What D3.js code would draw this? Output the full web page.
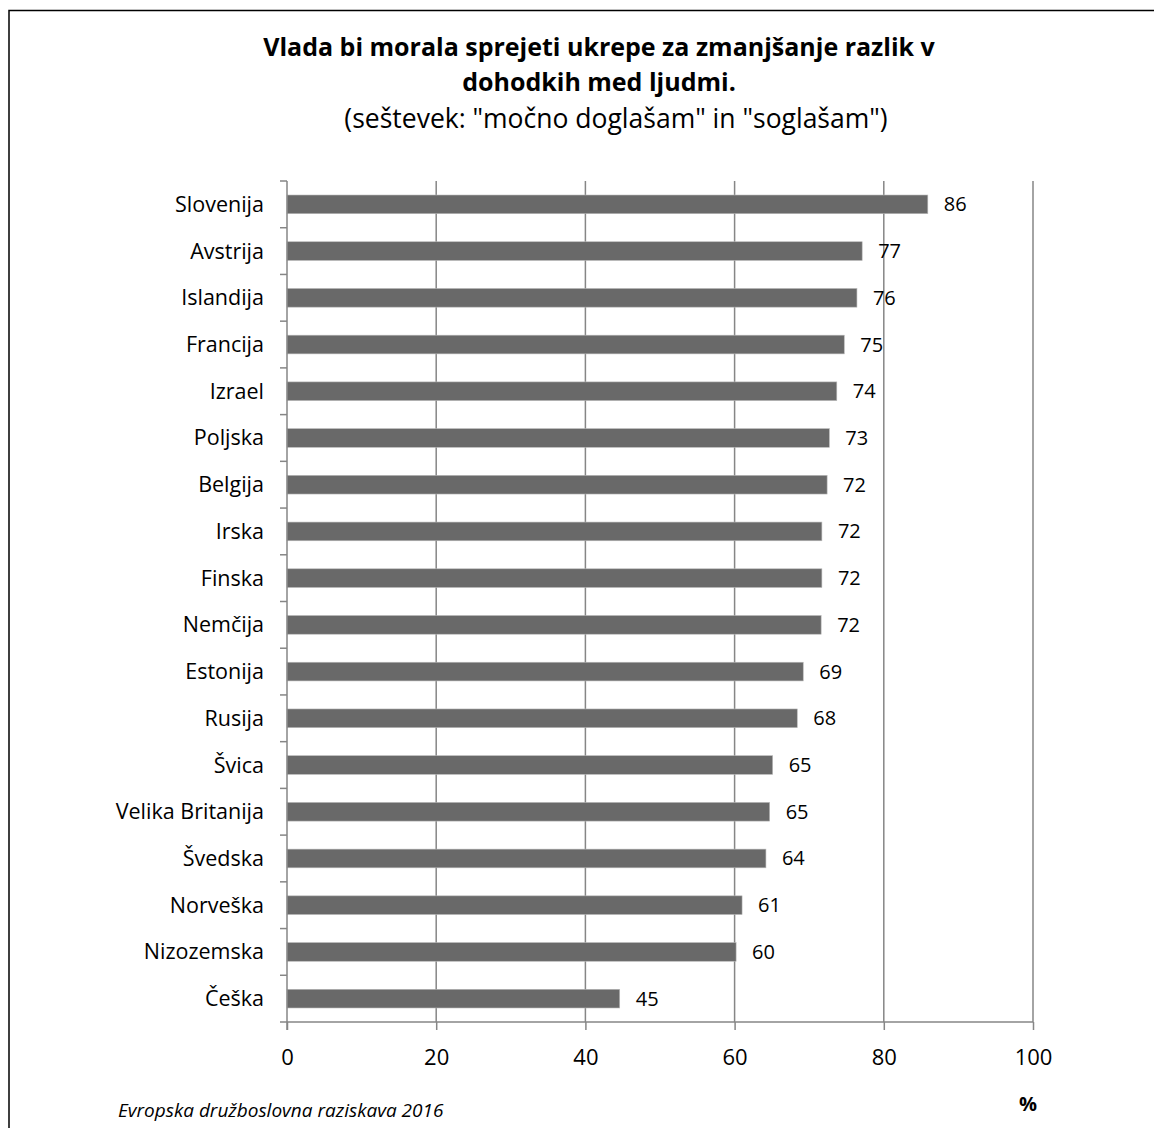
<!DOCTYPE html>
<html>
<head>
<meta charset="utf-8">
<script src="https://cdn.jsdelivr.net/npm/d3@7"></script>
<style>
  body { margin: 0; background: #fff; }
  svg { display: block; font-family: "Open Sans", sans-serif; }
</style>
</head>
<body>
<svg id="chart" width="1154" height="1128"></svg>
<script>
// data
var countries = ["Slovenija", "Avstrija", "Islandija", "Francija", "Izrael", "Poljska",
    "Belgija", "Irska", "Finska", "Nemčija", "Estonija", "Rusija", "Švica",
    "Velika Britanija", "Švedska", "Norveška", "Nizozemska", "Češka"];
var values = [85.9, 77.1, 76.4, 74.7, 73.7, 72.7, 72.4, 71.7, 71.7, 71.6,
    69.2, 68.4, 65.1, 64.7, 64.2, 61.0, 60.2, 44.6];
var xTicks = [0, 20, 40, 60, 80, 100];

var titleLines = ["Vlada bi morala sprejeti ukrepe za zmanjšanje razlik v", "dohodkih med ljudmi."];
var subtitle = '(seštevek: "močno doglašam" in "soglašam")';
var source = "Evropska družboslovna raziskava 2016";

var svg = d3.select("#chart");
var margin = {left: 287, right: 121, top: 181, bottom: 106};
var width = 1154 - margin.left - margin.right,
    height = 1128 - margin.top - margin.bottom;

// outer frame
svg.append("path")
    .attr("d", "M9,1128 V10.5 H1154")
    .attr("fill", "none")
    .attr("stroke", "#000")
    .attr("stroke-width", 1.5);

// titles
svg.selectAll(".title")
    .data(titleLines)
    .enter().append("text")
    .attr("class", "title")
    .attr("x", 599)
    .attr("y", (d, i) => 56 + i * 35)
    .attr("text-anchor", "middle")
    .attr("font-size", 25)
    .attr("font-weight", "bold")
    .text((d) => d);

svg.append("text")
    .attr("x", 616)
    .attr("y", 128)
    .attr("text-anchor", "middle")
    .attr("font-size", 26.5)
    .text(subtitle);

var g = svg.append("g").attr("transform", "translate(" + margin.left + "," + margin.top + ")");

var x = d3.scaleLinear().domain([0, 100]).range([0, width]);
var y = d3.scaleBand().domain(countries).range([0, height]).paddingInner(0.6).paddingOuter(0.3);

// gridlines
g.selectAll(".grid")
    .data(xTicks.slice(1))
    .enter().append("line")
    .attr("class", "grid")
    .attr("x1", (d) => x(d)).attr("x2", (d) => x(d))
    .attr("y1", 0).attr("y2", height)
    .attr("stroke", "#868686")
    .attr("stroke-width", 1.5);

// bars
g.selectAll(".bar")
    .data(values)
    .enter().append("rect")
    .attr("class", "bar")
    .attr("x", 0)
    .attr("y", (d, i) => y(countries[i]))
    .attr("width", (d) => x(d))
    .attr("height", y.bandwidth())
    .attr("fill", "#696969")
    .attr("stroke", "#b8b8b8")
    .attr("stroke-width", 0.6);

// value labels
g.selectAll(".val")
    .data(values)
    .enter().append("text")
    .attr("class", "val")
    .attr("x", (d) => x(d) + 16)
    .attr("y", (d, i) => y(countries[i]) + y.bandwidth() / 2)
    .attr("dy", "0.35em")
    .attr("font-size", 20)
    .attr("fill", "#000")
    .text((d) => Math.round(d));

// x axis
var xAxis = g.append("g")
    .attr("transform", "translate(0," + height + ")")
    .call(d3.axisBottom(x).tickValues(xTicks).tickSize(8).tickPadding(19));
xAxis.select(".domain").attr("stroke", "#868686").attr("stroke-width", 1.5)
    .attr("d", "M0,0H" + width);
xAxis.selectAll(".tick line").attr("stroke", "#868686").attr("stroke-width", 1.5);
xAxis.selectAll(".tick text").attr("font-size", 22).attr("fill", "#000")
    .attr("font-family", "Open Sans, sans-serif");

// y axis with ticks between categories
var yAxis = g.append("g");
yAxis.append("line")
    .attr("x1", 0).attr("x2", 0).attr("y1", 0).attr("y2", height + 8)
    .attr("stroke", "#868686").attr("stroke-width", 1.5);
yAxis.selectAll(".ytick")
    .data(d3.range(countries.length + 1))
    .enter().append("line")
    .attr("class", "ytick")
    .attr("x1", -7).attr("x2", 0)
    .attr("y1", (d) => d * height / countries.length)
    .attr("y2", (d) => d * height / countries.length)
    .attr("stroke", "#868686").attr("stroke-width", 1.5);
yAxis.selectAll(".ylab")
    .data(countries)
    .enter().append("text")
    .attr("class", "ylab")
    .attr("x", -23)
    .attr("y", (d) => y(d) + y.bandwidth() / 2)
    .attr("dy", "0.35em")
    .attr("text-anchor", "end")
    .attr("font-size", 21.5)
    .text((d) => d);

// % label and source
svg.append("text")
    .attr("x", margin.left + x(100) - 5)
    .attr("y", 1111)
    .attr("text-anchor", "middle")
    .attr("font-size", 20)
    .attr("font-weight", "bold")
    .text("%");

svg.append("text")
    .attr("x", 118)
    .attr("y", 1117)
    .attr("font-size", 19)
    .attr("font-style", "italic")
    .text(source);
</script>
</body>
</html>
